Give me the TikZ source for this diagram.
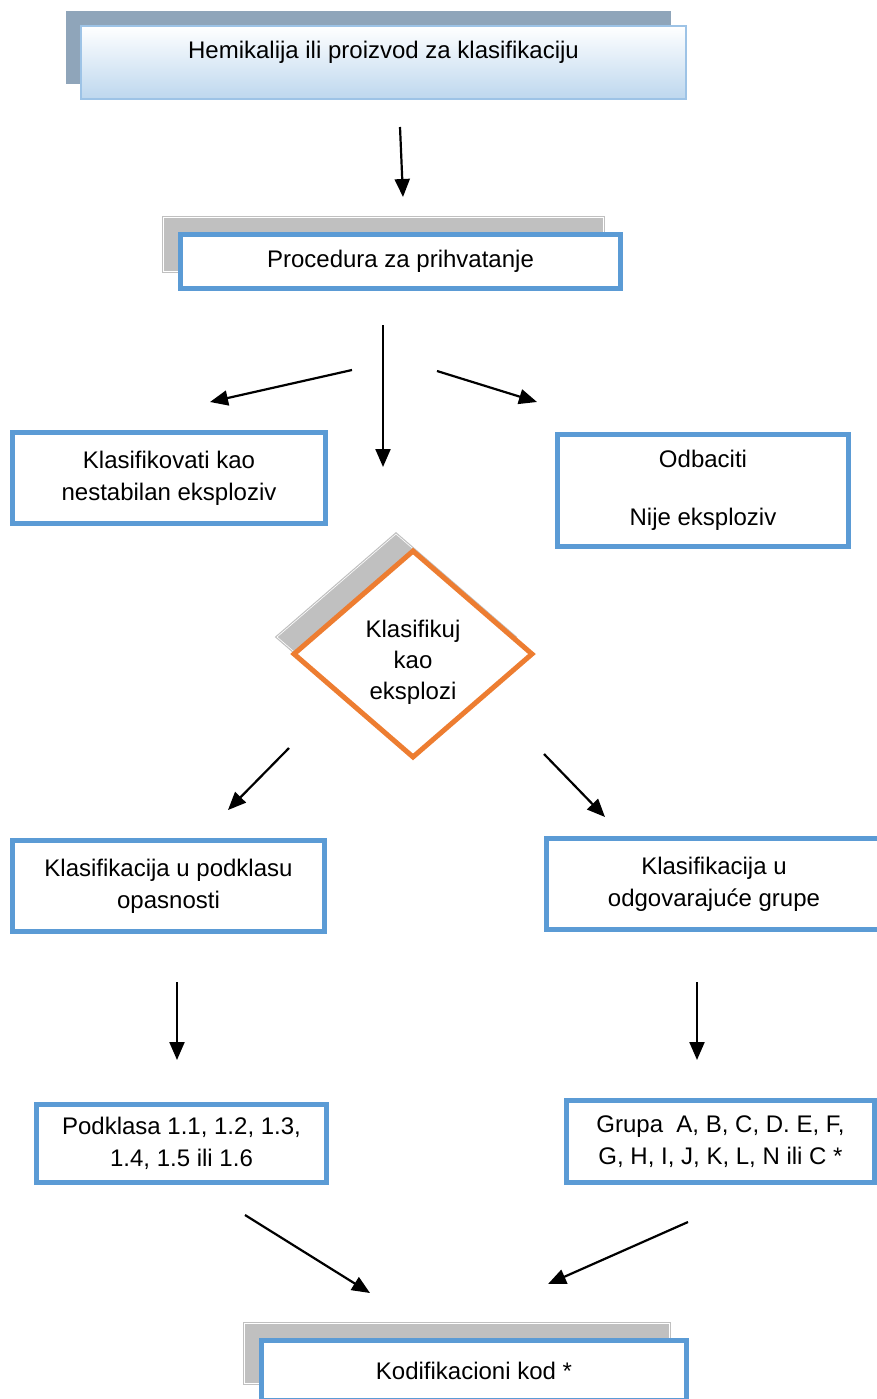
\documentclass[tikz,border=0pt]{standalone}
\usepackage{fontspec}
\setmainfont{Liberation Sans}
\usetikzlibrary{shapes.geometric,arrows.meta,shadows}
\definecolor{boxblue}{HTML}{5B9BD5}
\definecolor{paleblue}{HTML}{9DC3E6}
\definecolor{fadeblue}{HTML}{BDD7EE}
\definecolor{slate}{HTML}{8FA5BA}
\definecolor{shgray}{HTML}{C0C0C0}
\definecolor{decorange}{HTML}{ED7D31}
\tikzset{/FC/S/box/.style={
	shape=rectangle, draw=boxblue, line width=5pt, fill=white, align=center,
	inner sep=0, font=\fontsize{24}{32}\selectfont
}}
\tikzset{/FC/S/shadowed/.style={
	general shadow={shadow xshift=-17pt, shadow yshift=17pt, fill=shgray,
		draw=shgray, line width=1.2pt, double=white, double distance=0.6pt}
}}
\tikzset{/FC/S/decision/.style={
	shape=diamond, draw=decorange, line width=5pt, fill=white, align=center,
	inner sep=0, font=\fontsize{24}{31}\selectfont
}}
\tikzset{/FC/S/arrow/.style={
	-{Triangle[length=18pt, width=15pt]}, line width=2.2pt
}}

\begin{document}
\begin{tikzpicture}[x=1pt, y=-1pt]
	\useasboundingbox (0,0) rectangle (877,1399);
	% boxes
	\path (383.5,62.5) node[/FC/S/box, draw=paleblue, line width=2pt,
		top color=white, bottom color=fadeblue,
		general shadow={shadow xshift=-15pt, shadow yshift=15pt, fill=slate},
		minimum width=605pt, minimum height=73pt,
		text height=17pt, text depth=24pt] (hemi) {Hemikalija ili proizvod za klasifikaciju};
	\path (400.5,261.5) node[/FC/S/box, /FC/S/shadowed, minimum width=440pt, minimum height=54pt] (proc) {Procedura za prihvatanje};
	\path (169,478) node[/FC/S/box, minimum width=313pt, minimum height=91pt] (unstable) {Klasifikovati kao\\nestabilan eksploziv};
	\path (703,490.5) node[/FC/S/box, minimum width=291pt, minimum height=112pt] (reject) {Odbaciti\\[26pt]Nije eksploziv};
	\path (413,654) node[/FC/S/decision, /FC/S/shadowed, minimum width=240pt, minimum height=208pt] (explo) {\strut\\[-19pt]Klasifikuj\\kao\\eksplozi};
	\path (168.5,886) node[/FC/S/box, minimum width=312pt, minimum height=91pt] (subcls) {Klasifikacija u podklasu\\opasnosti};
	\path (714,884) node[/FC/S/box, minimum width=335pt, minimum height=91pt] (groups) {Klasifikacija u\\odgovarajuće grupe};
	\path (181.5,1143.5) node[/FC/S/box, minimum width=290pt, minimum height=78pt] (podkl) {Podklasa 1.1, 1.2, 1.3,\\1.4, 1.5 ili 1.6};
	\path (720.5,1141.5) node[/FC/S/box, minimum width=308pt, minimum height=82pt] (grupa) {Grupa~ A, B, C, D. E, F,\\G, H, I, J, K, L, N ili C *};
	\path (474,1370.5) node[/FC/S/box, /FC/S/shadowed, minimum width=425pt, minimum height=60pt] (kod) {Kodifikacioni kod *};
	% arrow ends
	\coordinate (h1) at (400,127);  \coordinate (h2) at (403,197);
	\coordinate (p0) at (383,325);  \coordinate (p1) at (383,467);
	\coordinate (l0) at (352,370);  \coordinate (l1) at (210,402);
	\coordinate (r0) at (437,371);  \coordinate (r1) at (537,402);
	\coordinate (d1) at (289,748);  \coordinate (d2) at (228,810);
	\coordinate (d3) at (544,754);  \coordinate (d4) at (605,817);
	\coordinate (s1) at (177,982);  \coordinate (s2) at (177,1060);
	\coordinate (g1) at (697,982);  \coordinate (g2) at (697,1060);
	\coordinate (k1) at (245,1215); \coordinate (k2) at (370,1293);
	\coordinate (k3) at (688,1222); \coordinate (k4) at (548,1284);
	\draw[/FC/S/arrow] (h1) -- (h2);
	\draw[/FC/S/arrow] (p0) -- (p1);
	\draw[/FC/S/arrow] (l0) -- (l1);
	\draw[/FC/S/arrow] (r0) -- (r1);
	\draw[/FC/S/arrow] (d1) -- (d2);
	\draw[/FC/S/arrow] (d3) -- (d4);
	\draw[/FC/S/arrow] (s1) -- (s2);
	\draw[/FC/S/arrow] (g1) -- (g2);
	\draw[/FC/S/arrow] (k1) -- (k2);
	\draw[/FC/S/arrow] (k3) -- (k4);
\end{tikzpicture}
\end{document}
